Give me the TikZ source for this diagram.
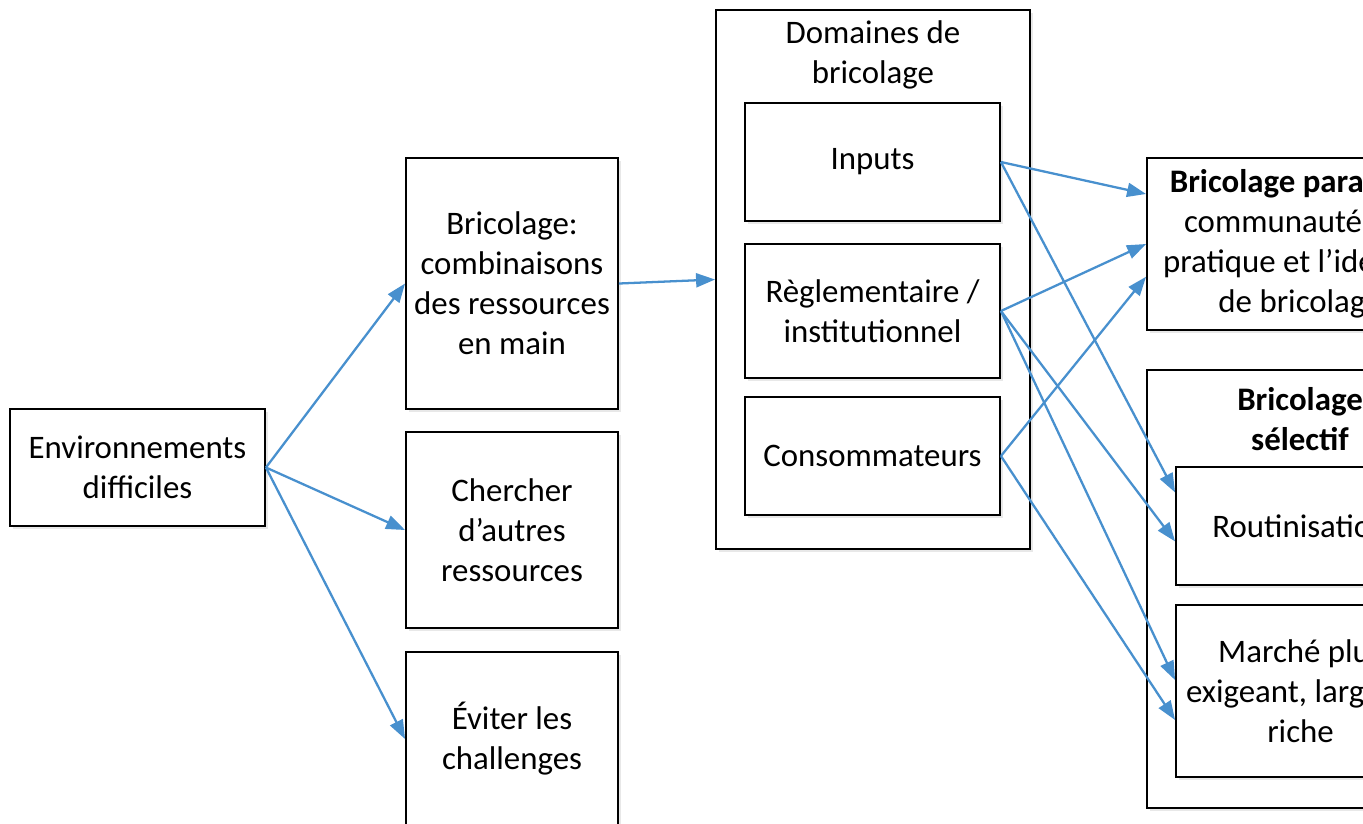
\documentclass[tikz,border=0pt]{standalone}
\usepackage{fontspec}
\setmainfont{Carlito}
\usetikzlibrary{arrows.meta,shadows}
\definecolor{linkblue}{RGB}{72,144,206}

\begin{document}
\begin{tikzpicture}[x=0.02cm,y=-0.02cm,
  font=\fontsize{18.7}{22.8}\selectfont,
  box/.style={draw,line width=1.1pt,fill=white,align=center,inner sep=0pt,
    drop shadow={opacity=0.18,shadow xshift=1.5pt,shadow yshift=-1.5pt}},
  link/.style={linkblue,line width=1.3pt,-{Triangle[length=3.8mm,width=2.8mm]}}]
  \useasboundingbox (0,0) rectangle (1363,823);
  \clip (0,0) rectangle (1363,823);

  \node[box,minimum width=5.1cm,minimum height=2.34cm] (env) at (137.5,467.5) {Environnements\\difficiles};
  \node[box,minimum width=4.24cm,minimum height=5.02cm] (brico) at (512,283.5) {Bricolage:\\combinaisons\\des ressources\\en main};
  \node[box,minimum width=4.24cm,minimum height=3.92cm] (chercher) at (512,530) {Chercher\\d’autres\\ressources};
  \node[box,minimum width=4.24cm,minimum height=3.48cm] (eviter) at (512,739) {Éviter les\\challenges};

  \node[box,minimum width=6.28cm,minimum height=10.78cm] (domaines) at (873,279.5) {};
  \node[align=center] (domtitle) at (873,55) {Domaines de\\bricolage};
  \node[box,minimum width=5.1cm,minimum height=2.36cm] (inputs) at (872.5,162) {Inputs};
  \node[box,minimum width=5.1cm,minimum height=2.68cm] (regl) at (872.5,311) {Règlementaire /\\institutionnel};
  \node[box,minimum width=5.1cm,minimum height=2.36cm] (conso) at (872.5,456) {Consommateurs};

  \node[box,minimum width=6.12cm,minimum height=3.44cm] (para) at (1300,244) {\textbf{Bricolage parallèle:}\\communautés de\\pratique et l’identité\\de bricolage};
  \node[box,minimum width=6.12cm,minimum height=8.76cm] (selectif) at (1300,589) {};
  \node[align=center,font=\fontsize{18.7}{22.8}\selectfont\bfseries] (seltitle) at (1300,419) {Bricolage\\sélectif};
  \node[box,minimum width=4.98cm,minimum height=2.36cm] (routin) at (1300.5,526) {Routinisation};
  \node[box,minimum width=4.98cm,minimum height=3.44cm] (marche) at (1300.5,691) {Marché plus\\exigeant, large et\\riche};

  \draw[link] (env.east) -- (brico.west);
  \draw[link] (env.east) -- (chercher.west);
  \draw[link] (env.east) -- (eviter.west);
  \draw[link] (brico.east) -- (domaines.west);
  \draw[link] (inputs.east) -- (para.162);
  \draw[link] (inputs.east) -- (routin.165);
  \draw[link] (regl.east) -- (para.west);
  \draw[link] (regl.east) -- (routin.187);
  \draw[link] (regl.east) -- (marche.175);
  \draw[link] (conso.east) -- (para.192);
  \draw[link] (conso.east) -- (marche.193);
\end{tikzpicture}
\end{document}
